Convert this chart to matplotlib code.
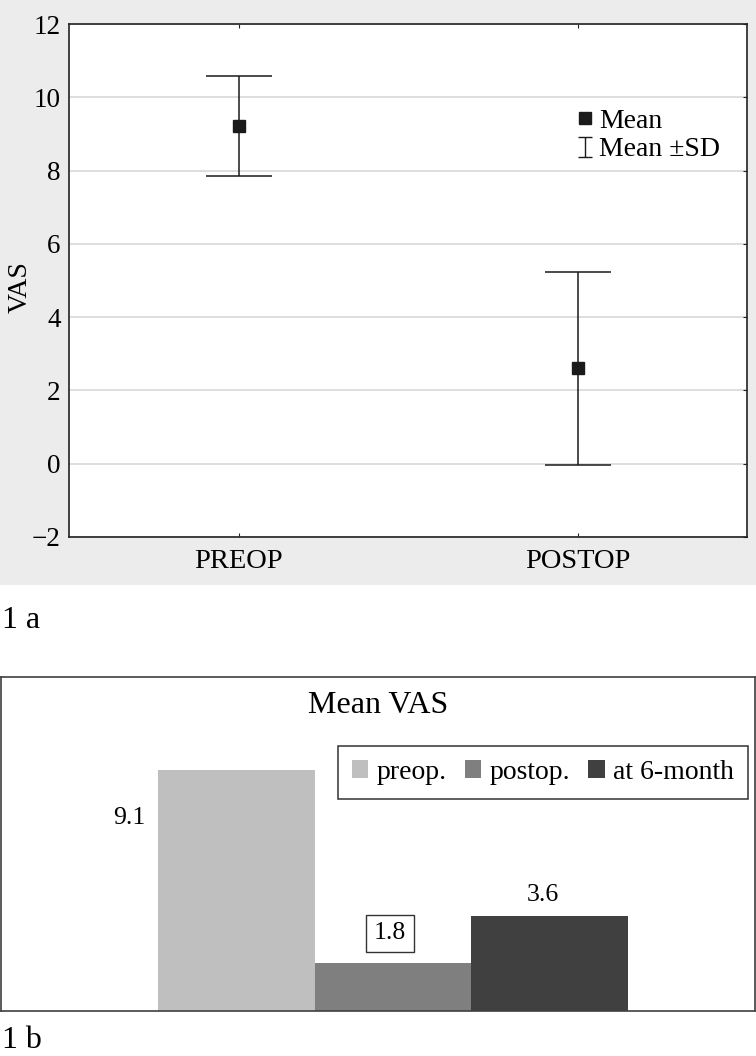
import matplotlib
matplotlib.use('Agg')
import matplotlib.pyplot as plt
from matplotlib.lines import Line2D
from matplotlib.patches import Rectangle
from matplotlib.path import Path

plt.rcParams['font.family'] = ['Liberation Serif', 'DejaVu Serif']

# panel 1a: mean +/- SD
groups = ['PREOP', 'POSTOP']
means = [9.22, 2.60]
sds = [1.36, 2.63]
yticks = [-2, 0, 2, 4, 6, 8, 10, 12]

# panel 1b: mean VAS bars
periods = ['preop.', 'postop.', 'at 6-month']
vas = [9.1, 1.8, 3.6]
bar_colors = ['#bfbfbf', '#7f7f7f', '#404040']

W, H = 756, 1056
fig = plt.figure(figsize=(W / 100, H / 100), dpi=100)

# gray background behind top panel
fig.patches.append(Rectangle((0, 1 - 585 / H), 1, 585 / H, transform=fig.transFigure,
                             facecolor='#ececec', edgecolor='none', zorder=-5))

ax1 = fig.add_axes([69 / W, 1 - 537 / H, 678 / W, 513 / H])
ax1.set_facecolor('white')
x = range(1, len(groups) + 1)
ax1.errorbar(x, means, yerr=sds, fmt='s', color='#1a1a1a', ecolor='#1a1a1a',
             markersize=8.5, elinewidth=1.1, capsize=24, capthick=1.1, zorder=3)
ax1.set_xlim(0.5, 2.5)
ax1.set_ylim(-2, 12)
ax1.set_yticks(yticks)
ax1.set_xticks(list(x))
ax1.set_xticklabels(groups)
ax1.grid(axis='y', color='#d4d4d4', linewidth=1.1)
ax1.set_axisbelow(True)
for s in ax1.spines.values():
    s.set_color('#222222')
    s.set_linewidth(1.2)
ax1.tick_params(axis='y', which='both', direction='in', left=False, right=True,
                length=3, labelsize=19.5, pad=6, color='#222222')
ax1.tick_params(axis='x', which='both', direction='in', top=True, bottom=True,
                length=3, labelsize=20.5, pad=9, color='#222222')
ax1.set_ylabel('VAS', fontsize=20)
ax1.yaxis.set_label_coords(-0.053, 0.487)

# I-beam symbol for the SD legend entry
ibeam = Path([(-0.7, 1), (0.7, 1), (0, 1), (0, -1), (-0.7, -1), (0.7, -1)],
             [Path.MOVETO, Path.LINETO, Path.MOVETO, Path.LINETO, Path.MOVETO, Path.LINETO])
handles = [Line2D([], [], marker='s', ls='none', color='#1a1a1a', markersize=9),
           Line2D([], [], marker=ibeam, ls='none', color='#1a1a1a', markersize=15,
                  markeredgewidth=1.0, fillstyle='none')]
ax1.legend(handles, ['Mean', 'Mean \u00b1SD'], loc='center left',
           bbox_to_anchor=(0.729, 0.783), frameon=False, fontsize=20,
           handlelength=0.6, handletextpad=0.18, labelspacing=0.12, borderpad=0)

fig.text(2 / W, 1 - 620 / H, '1 a', fontsize=23, va='center', ha='left')

# bottom panel
ax2 = fig.add_axes([1 / W, 1 - 1011 / H, 754 / W, 334 / H])
pos = list(range(len(vas)))
bars = ax2.bar(pos, vas, width=1.0, color=bar_colors, label=periods)
ax2.set_xlim(-1.5, 3.31)
ax2.set_ylim(0, 12.6)
ax2.set_xticks([])
ax2.set_yticks([])
for s in ax2.spines.values():
    s.set_color('#404040')
    s.set_linewidth(1.2)

ax2.text(0.5, 0.916, 'Mean VAS', transform=ax2.transAxes, ha='center', va='center',
         fontsize=23)

ax2.text(pos[0] - 0.58, vas[0] * 0.8, '9.1', ha='right', va='center', fontsize=18.5)
ax2.annotate('1.8', (pos[1], vas[1]), xytext=(-2, 21.5), textcoords='offset points',
             ha='center', va='center', fontsize=18.5,
             bbox=dict(boxstyle='square,pad=0.3', facecolor='white', edgecolor='#333333',
                       linewidth=1))
ax2.annotate('3.6', (pos[2], vas[2]), xytext=(-5, 15), textcoords='offset points',
             ha='center', va='center', fontsize=18.5)

leg = ax2.legend(loc='upper right', bbox_to_anchor=(0.991, 0.793), borderaxespad=0,
                 ncol=3, fontsize=20, fancybox=False, framealpha=1, edgecolor='#333333',
                 handlelength=0.6, handleheight=0.6, handletextpad=0.3,
                 columnspacing=0.65, borderpad=0.5)
leg.get_frame().set_linewidth(1.1)

fig.text(2 / W, 1 - 1041 / H, '1 b', fontsize=23, va='center', ha='left')

fig.savefig('out.png', dpi=100)
